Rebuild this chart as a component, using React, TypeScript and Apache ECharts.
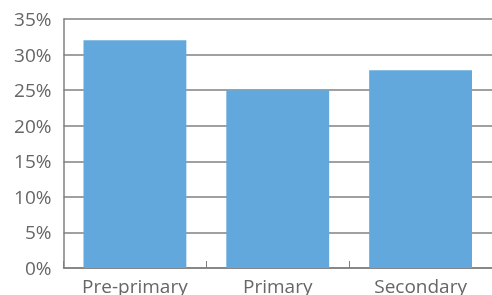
import React, { useEffect, useRef } from "react";
import * as echarts from "echarts";

const categories = ["Pre-primary", "Primary", "Secondary"];
const values = [32, 25, 27.8];
const yTicks = [0, 5, 10, 15, 20, 25, 30, 35];

export default function App() {
  const ref = useRef<HTMLDivElement>(null);
  useEffect(() => {
    if (!ref.current) return;
    const chart = echarts.init(ref.current, undefined, { renderer: "svg" });
    const font = "'Open Sans', sans-serif";
    chart.setOption({
      animation: false,
      grid: { left: 63.5, right: -2, top: 19, bottom: 26, containLabel: false },
      xAxis: {
        type: "category",
        data: categories,
        axisLine: { show: true, lineStyle: { color: "#808080", width: 1.5 } },
        axisTick: { show: true, inside: true, length: 7, lineStyle: { color: "#808080", width: 1 } },
        axisLabel: { color: "#666", fontFamily: font, fontSize: 19, margin: 8 },
        splitLine: { show: false },
      },
      yAxis: {
        type: "value",
        min: yTicks[0],
        max: yTicks[yTicks.length - 1],
        interval: 5,
        axisLine: { show: true, lineStyle: { color: "#808080", width: 1.5 } },
        axisTick: { show: false },
        axisLabel: {
          color: "#666",
          fontFamily: font,
          fontSize: 19,
          margin: 12,
          formatter: (v: number) => `${v}%`,
        },
        splitLine: { show: true, lineStyle: { color: "#808080", width: 1.5 } },
      },
      series: [
        {
          type: "bar",
          data: values,
          barWidth: "72%",
          itemStyle: { color: "#62a8dc" },
        },
      ],
    });
    return () => chart.dispose();
  }, []);
  return <div ref={ref} style={{ position: "fixed", left: 0, top: 0, width: 492, height: 295 }} />;
}
